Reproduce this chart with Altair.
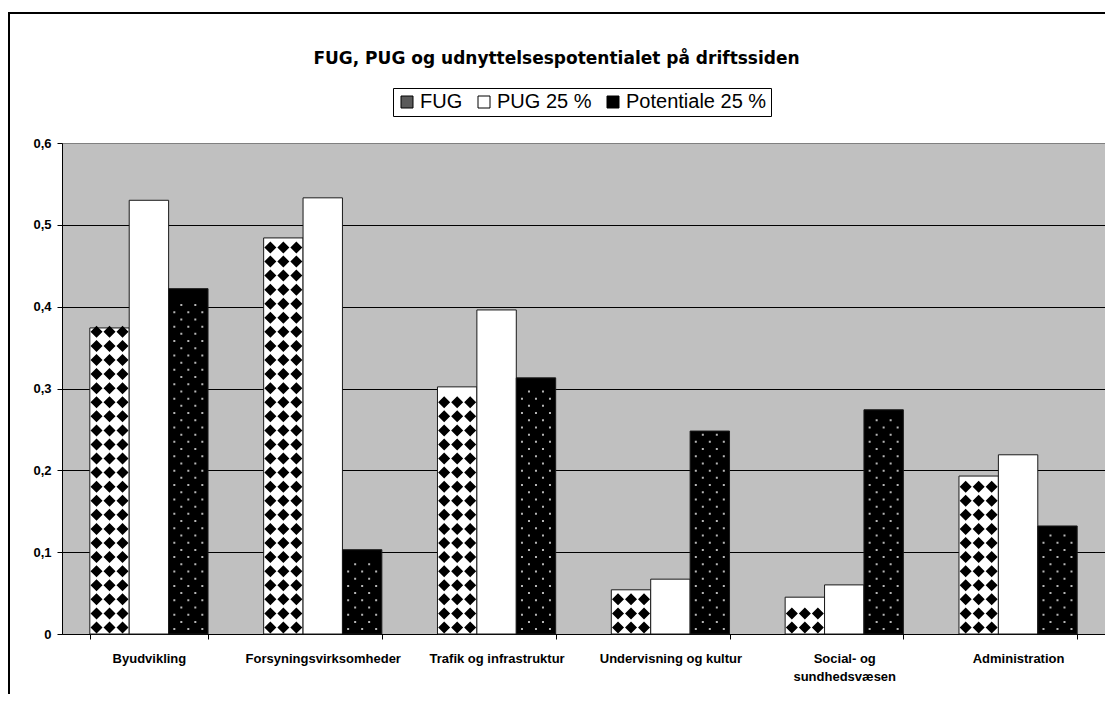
import altair as alt
import pandas as pd

categories = ["Byudvikling", "Forsyningsvirksomheder", "Trafik og infrastruktur",
              "Undervisning og kultur", "Social- og sundhedsvæsen", "Administration"]
series = ["FUG", "PUG 25 %", "Potentiale 25 %"]
fug = [0.374, 0.484, 0.302, 0.054, 0.045, 0.193]
pug = [0.530, 0.533, 0.396, 0.067, 0.060, 0.219]
pot = [0.422, 0.103, 0.313, 0.248, 0.274, 0.132]
y_ticks = [0, 0.1, 0.2, 0.3, 0.4, 0.5, 0.6]

rows = []
for i, c in enumerate(categories):
    for s, vals in zip(series, [fug, pug, pot]):
        rows.append({"category": c, "series": s, "value": vals[i]})
df = pd.DataFrame(rows)

FONT = "Liberation Sans"

x_axis = alt.Axis(title=None, labelAngle=0, labelFont=FONT, labelFontSize=13,
                  labelFontWeight="bold", labelColor="black", labelPadding=13,
                  labelLineHeight=18, labelLimit=250,
                  labelExpr="datum.label == 'Social- og sundhedsvæsen' ? ['Social- og', 'sundhedsvæsen'] : datum.label",
                  domainColor="black", domainWidth=1, tickColor="black", tickSize=5,
                  tickBand="extent", grid=False)
y_axis = alt.Axis(title=None, values=y_ticks, labelFont=FONT, labelFontSize=13,
                  labelFontWeight="bold", labelColor="black", labelPadding=6,
                  labelExpr="replace(format(datum.value, '.1~f'), '.', ',')",
                  domainColor="black", domainWidth=1, tickColor="black", tickSize=5,
                  grid=True, gridWidth=1,
                  gridColor={"condition": {"test": "datum.value >= 0.59", "value": "transparent"},
                             "value": "black"})

x_scale = alt.Scale(paddingInner=0.32, paddingOuter=0.16)
y_scale = alt.Scale(domain=[0, 0.6], nice=False)


def X():
    return alt.X("category:N", sort=categories, scale=x_scale, axis=x_axis)


def XO():
    return alt.XOffset("series:N", sort=series, scale=alt.Scale(paddingInner=0, paddingOuter=0))


def Y(field):
    return alt.Y(f"{field}:Q", scale=y_scale, axis=y_axis)


frame = alt.Chart(alt.Data(values=[{"a": 1}])).mark_rect(
    fill="transparent", stroke="black", strokeWidth=2
).encode(x=alt.value(-53), x2=alt.value(1080), y=alt.value(-130), y2=alt.value(600))

bars = alt.Chart(df).mark_bar(stroke="#1a1a1a", strokeWidth=1).encode(
    x=X(), xOffset=XO(), y=Y("value"),
    color=alt.Color("series:N", sort=series,
                    scale=alt.Scale(domain=series, range=["#ffffff", "#ffffff", "#000000"]),
                    legend=None),
)

# diamond pattern tile for FUG bars (one row of three diamonds)
diamond_path = ("M-19,0L-13,-6L-7,0L-13,6Z M-6,0L0,-6L6,0L0,6Z M7,0L13,-6L19,0L13,6Z")
diamonds = alt.Chart(df).transform_filter(alt.datum.series == "FUG").transform_calculate(
    r="sequence(0.008, datum.value - 0.003, 0.0172)"
).transform_flatten(["r"]).mark_point(
    shape=diamond_path, size=4, filled=True, color="black", opacity=1, strokeWidth=0
).encode(x=X(), xOffset=XO(), y=Y("r"))

# dotted pattern tile for Potentiale bars (two staggered rows of dots)
dot_path = ("M-15,-1h2v2h-2Z M-1,-1h2v2h-2Z M13,-1h2v2h-2Z "
            "M-8,-8.2h2v2h-2Z M6,-8.2h2v2h-2Z")
dots = alt.Chart(df).transform_filter(alt.datum.series == "Potentiale 25 %").transform_calculate(
    r="sequence(0.006, datum.value - 0.012, 0.0176)"
).transform_flatten(["r"]).mark_point(
    shape=dot_path, size=4, filled=True, color="#b5b5b5", opacity=1, strokeWidth=0
).encode(x=X(), xOffset=XO(), y=Y("r"))

legend_layer = alt.Chart(df).mark_square(opacity=0).encode(
    x=X(), xOffset=XO(), y=Y("value"),
    color=alt.Color("series:N", sort=series,
                    scale=alt.Scale(domain=series, range=["#5a5a5a", "#ffffff", "#000000"]),
                    legend=alt.Legend(title=None, orient="none", legendX=331, legendY=-55,
                                      direction="horizontal", strokeColor="black",
                                      padding=4, columnPadding=11, labelOffset=3,
                                      labelFont=FONT, labelFontSize=20, labelColor="black",
                                      symbolType="square", symbolSize=144,
                                      symbolStrokeColor="black", symbolStrokeWidth=1,
                                      symbolOpacity=1)),
)

chart = alt.layer(frame, bars, diamonds, dots, legend_layer).resolve_scale(
    color="independent"
).properties(
    width=1043, height=491,
    autosize=alt.AutoSizeParams(type="none"),
    padding={"left": 54, "top": 135, "right": 0, "bottom": 60},
    title=alt.Title("FUG, PUG og udnyttelsespotentialet på driftssiden", font="DejaVu Sans",
                    fontSize=17, fontWeight="bold", color="black", anchor="middle",
                    frame="group", dx=-27, offset=0, dy=56),
).configure_view(fill="#c0c0c0", stroke="#808080", strokeWidth=1)

chart.save("out.html", embed_options={"renderer": "svg", "actions": False})
